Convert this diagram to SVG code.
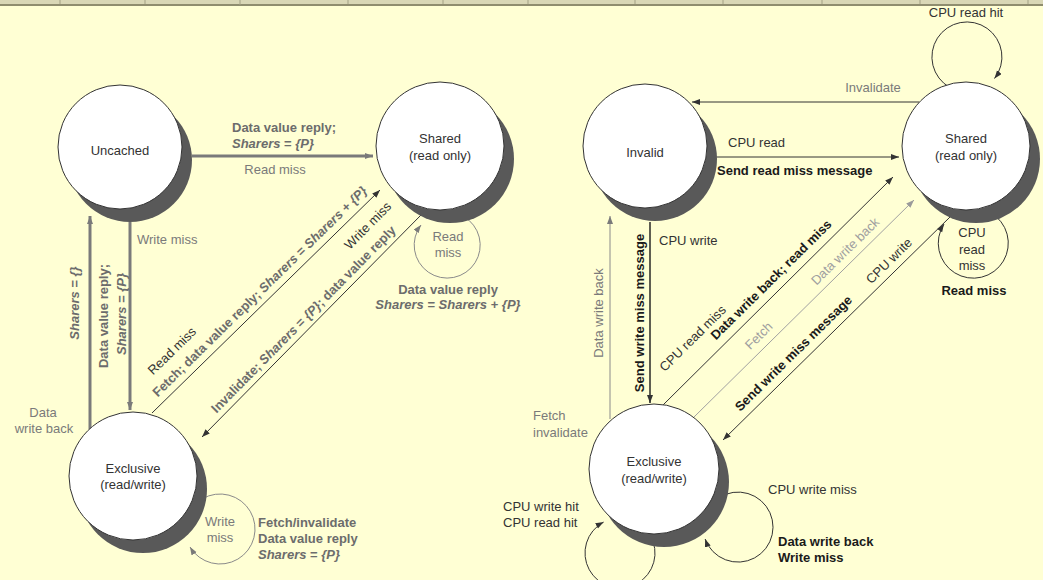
<svg xmlns="http://www.w3.org/2000/svg" width="1043" height="580" viewBox="0 0 1043 580">
<style>
text{font-family:"Liberation Sans",Arial,sans-serif;font-size:13px}
.nl{fill:#333;text-anchor:middle}
.g{fill:#7a7a7a}
.gl{fill:#a0a0a0}
.gb{fill:#6c6c6c;font-weight:bold}
.d{fill:#333}
.b{fill:#1a1a1a;font-weight:bold}
.i{font-style:italic}
.m{text-anchor:middle}
.shadow{fill:#595959}
.node{fill:#fff;stroke:#333;stroke-width:1}
.thick{stroke:#7a7a7a;stroke-width:3;fill:none}
.thin{stroke:#333;stroke-width:1;fill:none}
.blk{stroke:#1a1a1a;stroke-width:1.4;fill:none}
.tg{stroke:#8a8a8a;stroke-width:1;fill:none}
.tl{stroke:#a0a0a0;stroke-width:1;fill:none}
</style>
<defs>
<marker id="aD" markerUnits="userSpaceOnUse" markerWidth="9" markerHeight="7" refX="8" refY="3" orient="auto"><path d="M0,0 L8,3 L0,6 z" fill="#333"/></marker>
<marker id="aG" markerUnits="userSpaceOnUse" markerWidth="9" markerHeight="7" refX="8" refY="3" orient="auto"><path d="M0,0 L8,3 L0,6 z" fill="#7a7a7a"/></marker>
<marker id="aL" markerUnits="userSpaceOnUse" markerWidth="9" markerHeight="7" refX="8" refY="3" orient="auto"><path d="M0,0 L8,3 L0,6 z" fill="#9a9a9a"/></marker>
</defs>
<rect x="0" y="0" width="1043" height="580" fill="#FFFFD4"/>
<g id="topband">
<rect x="0" y="0" width="1043" height="4" fill="#d9d7b6"/>
<rect x="0" y="4" width="1043" height="2" fill="#8f8d6f"/>
<g stroke="#a3a184" stroke-width="1">
<line x1="60" y1="0" x2="60" y2="4"/><line x1="145" y1="0" x2="145" y2="4"/><line x1="240" y1="0" x2="240" y2="5"/><line x1="348" y1="0" x2="348" y2="4"/><line x1="443" y1="0" x2="443" y2="4"/><line x1="528" y1="0" x2="528" y2="4"/><line x1="635" y1="0" x2="635" y2="4"/><line x1="723" y1="0" x2="723" y2="4"/><line x1="822" y1="0" x2="822" y2="4"/><line x1="920" y1="0" x2="920" y2="4"/><line x1="1028" y1="0" x2="1028" y2="4"/>
</g>
</g>
<g id="connectors">
<path class="thick" d="M192,156 H373" marker-end="url(#aG)"/>
<path class="thick" d="M130,222 V410" marker-end="url(#aG)"/>
<path class="thick" d="M90,429 V216" marker-end="url(#aG)"/>
<path class="thin" d="M152,413 L380,190" marker-end="url(#aD)"/>
<path class="thin" d="M422,214 L202,437" marker-end="url(#aD)"/>
<path class="tg" d="M463.5,216.4 A33 33 0 1 1 421,225" marker-end="url(#aG)"/>
<path class="tg" d="M202.5,498.7 A35 35 0 1 1 190,547" marker-end="url(#aG)"/>
<path class="thin" d="M919,102 H692" marker-end="url(#aD)"/>
<path class="thin" d="M715,157 H899" marker-end="url(#aD)"/>
<path class="thin" d="M949.5,87.3 A35 35 0 1 1 994.5,78.5" marker-end="url(#aD)"/>
<path class="blk" d="M650,222 V403" marker-end="url(#aD)"/>
<path class="tg" d="M610,419 V216" marker-end="url(#aG)"/>
<path class="thin" d="M663,405 L893,177" marker-end="url(#aD)"/>
<path class="tl" d="M693,418 L914,200" marker-end="url(#aL)"/>
<path class="thin" d="M950,217 L723,440" marker-end="url(#aD)"/>
<path class="thin" d="M990.5,212.7 A35 35 0 1 1 944,224" marker-end="url(#aD)"/>
<path class="thin" d="M713.3,502.3 A35 35 0 1 1 705.1,539" marker-end="url(#aD)"/>
<path class="thin" d="M650.3,535.5 A35 35 0 1 1 603.6,522.1" marker-end="url(#aD)"/>
</g>
<g id="node-uncached">
<circle class="shadow" cx="130" cy="160" r="62"/>
<circle class="node" cx="120" cy="147" r="62"/>
<text class="nl" x="120" y="154.5">Uncached</text>
</g>
<g id="node-shared-left">
<circle class="shadow" cx="450" cy="159" r="64"/>
<circle class="node" cx="440" cy="146" r="64"/>
<text class="nl" x="440" y="142.5">Shared</text>
<text class="nl" x="440" y="159.5">(read only)</text>
</g>
<g id="node-exclusive-left">
<circle class="shadow" cx="143" cy="489" r="64"/>
<circle class="node" cx="133" cy="476" r="64"/>
<text class="nl" x="133" y="472.5">Exclusive</text>
<text class="nl" x="133" y="488.5">(read/write)</text>
</g>
<g id="node-invalid">
<circle class="shadow" cx="655" cy="159" r="62"/>
<circle class="node" cx="645" cy="146" r="62"/>
<text class="nl" x="645" y="156.5">Invalid</text>
</g>
<g id="node-shared-right">
<circle class="shadow" cx="976" cy="159" r="64"/>
<circle class="node" cx="966" cy="146" r="64"/>
<text class="nl" x="966" y="142.5">Shared</text>
<text class="nl" x="966" y="159.5">(read only)</text>
</g>
<g id="node-exclusive-right">
<circle class="shadow" cx="664" cy="482" r="65"/>
<circle class="node" cx="654" cy="469" r="65"/>
<text class="nl" x="654" y="465.5">Exclusive</text>
<text class="nl" x="654" y="482.5">(read/write)</text>
</g>
<g id="labels">
<text class="gb" x="232" y="132">Data value reply;</text>
<text class="gb" x="232" y="148"><tspan class="i">Sharers</tspan> = <tspan class="i">{P}</tspan></text>
<text class="g m" x="275" y="174">Read miss</text>
<text class="g" x="137" y="244">Write miss</text>
<text class="gb i m" transform="translate(78.5,303) rotate(-90)">Sharers = {}</text>
<text class="gb m" transform="translate(107.5,316) rotate(-90)">Data value reply;</text>
<text class="gb i m" transform="translate(125.5,314) rotate(-90)">Sharers = {P}</text>
<text class="g m" x="43" y="417">Data</text>
<text class="g m" x="44" y="433">write back</text>
<g transform="translate(152,413) rotate(-44.4)">
<text class="d" x="27" y="-26">Read miss</text>
<text class="gb m" x="162" y="-7">Fetch; data value reply; <tspan class="i">Sharers</tspan> = <tspan class="i">Sharers</tspan> + <tspan class="i">{P}</tspan></text>
</g>
<g transform="translate(202,437) rotate(-45.4)">
<text class="gb m" x="155" y="-6">Invalidate; <tspan class="i">Sharers</tspan> = <tspan class="i">{P}</tspan>; data value reply</text>
<text class="d m" x="267" y="-26">Write miss</text>
</g>
<text class="g m" x="448" y="241">Read</text>
<text class="g m" x="448" y="257">miss</text>
<text class="gb m" x="448" y="294">Data value reply</text>
<text class="gb m" x="448" y="309"><tspan class="i">Sharers</tspan> = <tspan class="i">Sharers</tspan> + <tspan class="i">{P}</tspan></text>
<text class="g m" x="220" y="526">Write</text>
<text class="g m" x="220" y="542">miss</text>
<text class="gb" x="258" y="527">Fetch/invalidate</text>
<text class="gb" x="258" y="543">Data value reply</text>
<text class="gb" x="258" y="559"><tspan class="i">Sharers</tspan> = <tspan class="i">{P}</tspan></text>

<text class="d m" x="966" y="17">CPU read hit</text>
<text class="g m" x="873" y="92">Invalidate</text>
<text class="d" x="728" y="147">CPU read</text>
<text class="b" x="717" y="175">Send read miss message</text>
<text class="b m" transform="translate(643.5,313) rotate(-90)">Send write miss message</text>
<text class="d" x="659" y="245">CPU write</text>
<text class="g m" transform="translate(602.5,313) rotate(-90)">Data write back</text>
<text class="g" x="533" y="420">Fetch</text>
<text class="g" x="533" y="437">invalidate</text>
<g transform="translate(663,405) rotate(-44.75)">
<text class="d m" x="68" y="-22">CPU read miss</text>
<text class="b m" x="165" y="-8.5">Data write back; read miss</text>
</g>
<g transform="translate(693,418) rotate(-44.6)">
<text class="gl m" x="104.6" y="-8">Fetch</text>
<text class="gl m" x="225.5" y="-7.5">Data write back</text>
</g>
<g transform="translate(723,440) rotate(-44.5)">
<text class="b m" x="111" y="-8">Send write miss message</text>
<text class="d m" x="244" y="-7">CPU write</text>
</g>
<text class="d m" x="972" y="237">CPU</text>
<text class="d m" x="972" y="254">read</text>
<text class="d m" x="972" y="270">miss</text>
<text class="b m" x="974" y="295">Read miss</text>
<text class="d" x="768" y="494">CPU write miss</text>
<text class="b" x="778" y="546">Data write back</text>
<text class="b" x="778" y="562">Write miss</text>
<text class="d" x="503" y="511">CPU write hit</text>
<text class="d" x="503" y="527">CPU read hit</text>
</g>
</svg>
